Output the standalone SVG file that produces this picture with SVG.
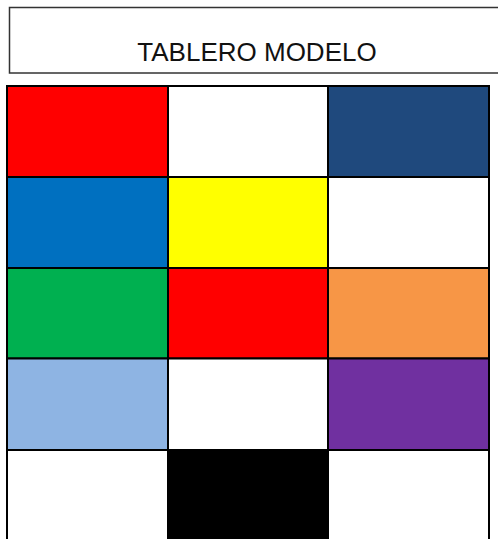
<svg xmlns="http://www.w3.org/2000/svg" width="498" height="539" viewBox="0 0 498 539">
<style>
.cell{stroke:#000;stroke-width:2}
.title{fill:#fff;stroke:#333;stroke-width:1.5}
.t{font-family:"Liberation Sans",Arial,sans-serif;font-size:26px;fill:#111}
</style>
<rect width="498" height="539" fill="#fff"/>
<g id="title">
<rect class="title" x="9.5" y="7.5" width="495" height="65.5"/>
<text class="t" x="257" y="60.5" text-anchor="middle">TABLERO MODELO</text>
</g>
<g id="board">
<rect id="c11" class="cell" x="7" y="86" width="161" height="91" fill="#ff0000"/>
<rect id="c12" class="cell" x="168" y="86" width="160" height="91" fill="#ffffff"/>
<rect id="c13" class="cell" x="328" y="86" width="161" height="91" fill="#1f497d"/>
<rect id="c21" class="cell" x="7" y="177" width="161" height="91" fill="#0070c0"/>
<rect id="c22" class="cell" x="168" y="177" width="160" height="91" fill="#ffff00"/>
<rect id="c23" class="cell" x="328" y="177" width="161" height="91" fill="#ffffff"/>
<rect id="c31" class="cell" x="7" y="268" width="161" height="90.5" fill="#00b050"/>
<rect id="c32" class="cell" x="168" y="268" width="160" height="90.5" fill="#ff0000"/>
<rect id="c33" class="cell" x="328" y="268" width="161" height="90.5" fill="#f79646"/>
<rect id="c41" class="cell" x="7" y="358.5" width="161" height="91.5" fill="#8eb4e3"/>
<rect id="c42" class="cell" x="168" y="358.5" width="160" height="91.5" fill="#ffffff"/>
<rect id="c43" class="cell" x="328" y="358.5" width="161" height="91.5" fill="#7030a0"/>
<rect id="c51" class="cell" x="7" y="450" width="161" height="100" fill="#ffffff"/>
<rect id="c52" class="cell" x="168" y="450" width="160" height="100" fill="#000000"/>
<rect id="c53" class="cell" x="328" y="450" width="161" height="100" fill="#ffffff"/>
</g>
</svg>
